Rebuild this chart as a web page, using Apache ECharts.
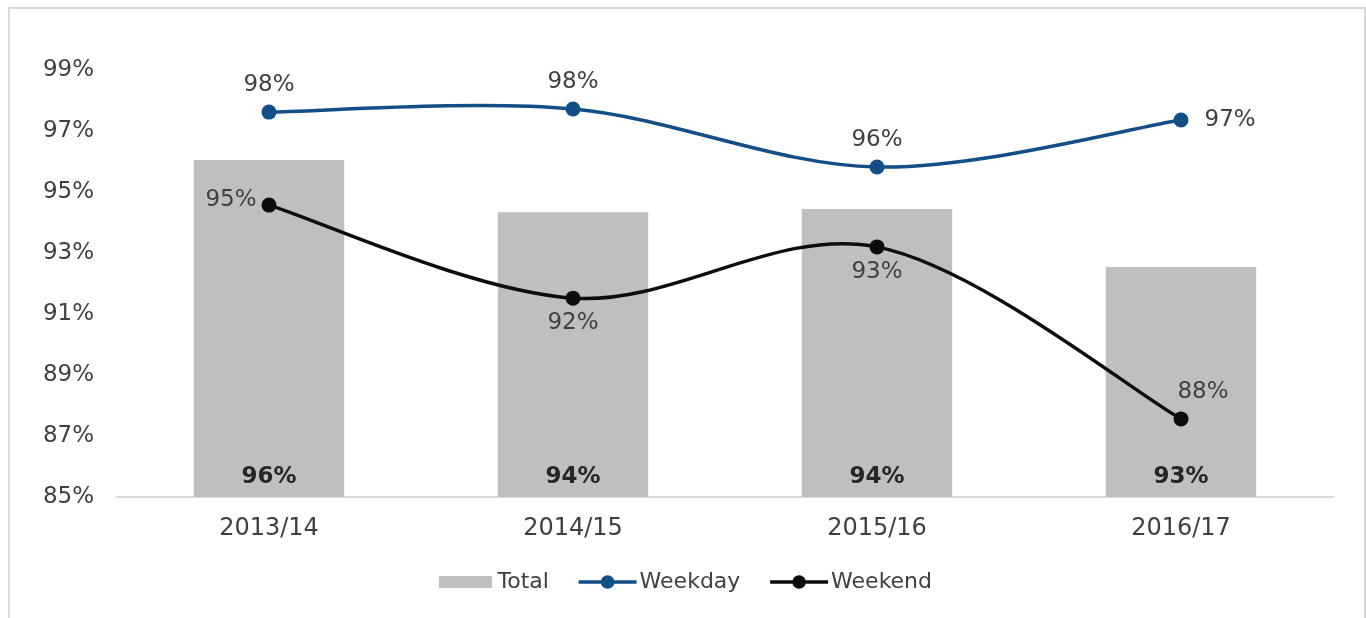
<!DOCTYPE html>
<html>
<head>
<meta charset="utf-8">
<title>Weekday and weekend rates</title>
<script src="https://cdn.jsdelivr.net/npm/echarts@6/dist/echarts.min.js"></script>
<style>
  html, body { margin: 0; padding: 0; background: #fff; }
  #chart { width: 1366px; height: 618px; }
</style>
</head>
<body>
<div id="chart"></div>
<script>
// Financial years on the category axis
const years = ['2013/14', '2014/15', '2015/16', '2016/17'];
// Percentage values per series
const totalValues = [96.05, 94.34, 94.44, 92.54];
const weekdayValues = [97.62, 97.72, 95.82, 97.36];
const weekendValues = [94.57, 91.52, 93.2, 87.56];
// Value-axis range; only odd percentages carry a label
const axisMin = 85;
const axisMax = 99;

const FONT = 'DejaVu Sans';
const TEXT = '#404040';
const BLUE = '#144e86';
const BLACK = '#0d0d0d';
const pct = (v) => Math.round(v) + '%';

// Smooth curve through the points (Catmull-Rom segments as cubic Béziers),
// positioned through the chart's own axes via api.coord.
function curveSeries(name, values, color) {
  return {
    name: name,
    type: 'custom',
    data: values.map((v, i) => [i, v]),
    z: 2,
    silent: true,
    renderItem: (params, api) => {
      const i = params.dataIndex;
      const n = values.length;
      if (i >= n - 1) return null;
      const p = (j) => {
        const c = Math.max(0, Math.min(n - 1, j));
        return api.coord([c, values[c]]);
      };
      const p0 = p(i - 1), p1 = p(i), p2 = p(i + 1), p3 = p(i + 2);
      const k = 1 / 6;
      return {
        type: 'bezierCurve',
        shape: {
          x1: p1[0], y1: p1[1],
          x2: p2[0], y2: p2[1],
          cpx1: p1[0] + (p2[0] - p0[0]) * k, cpy1: p1[1] + (p2[1] - p0[1]) * k,
          cpx2: p2[0] - (p3[0] - p1[0]) * k, cpy2: p2[1] - (p3[1] - p1[1]) * k
        },
        style: { fill: null, stroke: color, lineWidth: 3.5, lineCap: 'round' }
      };
    }
  };
}

const chart = echarts.init(document.getElementById('chart'), null, { renderer: 'canvas' });

chart.setOption({
  animation: false,
  textStyle: { fontFamily: FONT, color: TEXT },
  graphic: [{
    type: 'rect',
    shape: { x: 9, y: 8, width: 1356, height: 640 },
    style: { fill: 'none', stroke: '#d9d9d9', lineWidth: 2 },
    silent: true
  }],
  grid: { left: 117, right: 33, top: 70, height: 427, containLabel: false },
  legend: {
    top: 566,
    left: 'center',
    itemWidth: 58,
    itemHeight: 17,
    itemGap: 28,
    textStyle: { fontFamily: FONT, fontSize: 22, color: TEXT, padding: [0, 0, 0, -2] },
    data: [
      { name: 'Total', icon: 'rect', itemStyle: { color: '#bfbfbf', borderColor: '#ffffff', borderWidth: 5 } },
      { name: 'Weekday', lineStyle: { opacity: 1, width: 3.5, color: BLUE } },
      { name: 'Weekend', lineStyle: { opacity: 1, width: 3.5, color: BLACK } }
    ]
  },
  xAxis: {
    type: 'category',
    data: years,
    axisLine: { lineStyle: { color: '#d9d9d9', width: 2 } },
    axisTick: { show: false },
    axisLabel: { fontFamily: FONT, fontSize: 24, color: TEXT, margin: 20 }
  },
  yAxis: {
    type: 'value',
    min: axisMin,
    max: axisMax,
    interval: 1,
    splitLine: { show: false },
    axisLine: { show: false },
    axisTick: { show: false },
    axisLabel: {
      fontFamily: FONT, fontSize: 23, color: TEXT, margin: 23,
      formatter: (v) => (Math.round(v) % 2 === 1 ? Math.round(v) + '%' : '')
    }
  },
  series: [
    {
      name: 'Total',
      type: 'bar',
      data: totalValues,
      barWidth: '49.5%',
      itemStyle: { color: '#bfbfbf' },
      label: {
        show: true,
        position: 'insideBottom',
        distance: 8,
        fontFamily: FONT,
        fontSize: 23,
        fontWeight: 'bold',
        color: '#262626',
        formatter: (p) => pct(p.value)
      },
      z: 1
    },
    curveSeries('Weekday curve', weekdayValues, BLUE),
    curveSeries('Weekend curve', weekendValues, BLACK),
    {
      name: 'Weekday',
      type: 'line',
      data: weekdayValues.map((v, i) => {
        const item = { value: v };
        if (i === 3) item.label = { position: 'right', distance: 16 };
        return item;
      }),
      symbol: 'circle',
      symbolSize: 15,
      lineStyle: { color: BLUE, width: 3.5, opacity: 0 },
      itemStyle: { color: BLUE },
      label: {
        show: true,
        position: 'top',
        distance: 8,
        fontFamily: FONT,
        fontSize: 23,
        color: TEXT,
        formatter: (p) => pct(p.value)
      },
      z: 3
    },
    {
      name: 'Weekend',
      type: 'line',
      data: weekendValues.map((v, i) => {
        const item = { value: v };
        if (i === 0) item.label = { position: 'left', distance: 5, offset: [0, -5] };
        if (i === 3) item.label = { position: 'top', distance: 8, offset: [22, 0] };
        return item;
      }),
      symbol: 'circle',
      symbolSize: 15,
      lineStyle: { color: BLACK, width: 3.5, opacity: 0 },
      itemStyle: { color: BLACK },
      label: {
        show: true,
        position: 'bottom',
        distance: 6,
        fontFamily: FONT,
        fontSize: 23,
        color: TEXT,
        formatter: (p) => pct(p.value)
      },
      z: 3
    }
  ]
});
</script>
</body>
</html>
